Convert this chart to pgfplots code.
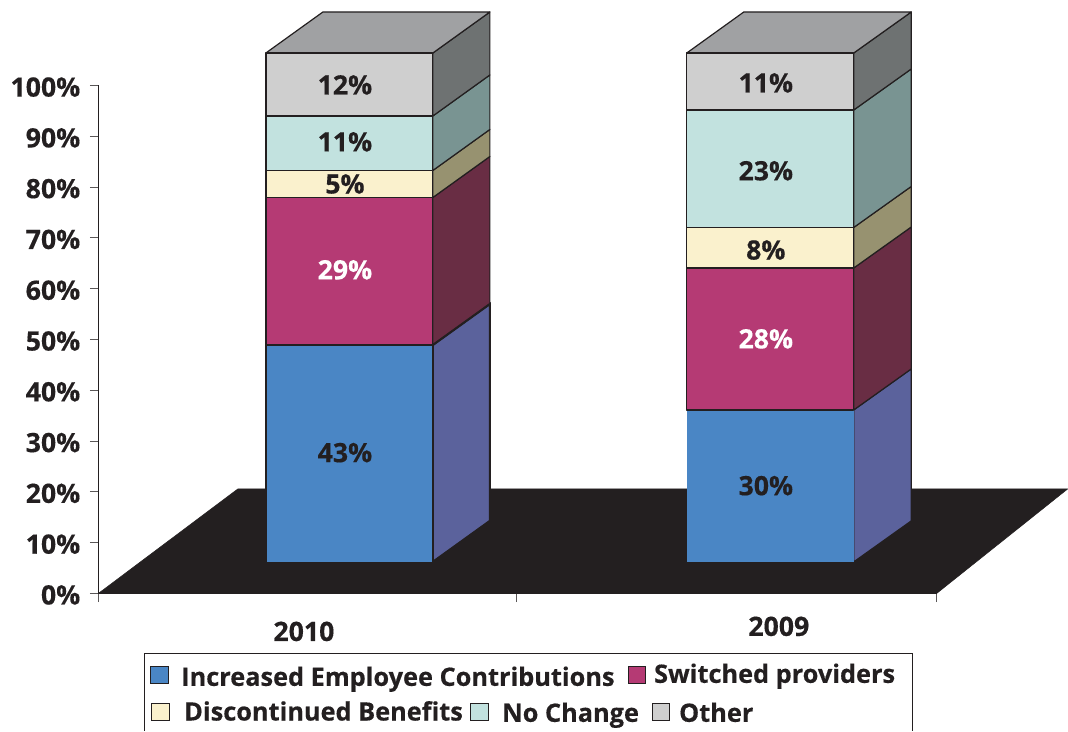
\documentclass[border=0pt]{standalone}
\usepackage{pgfplots}
\pgfplotsset{compat=1.18}
\usepackage{fontspec}
\setmainfont{Open Sans}[BoldFeatures={FakeBold=0.4}]
\definecolor{ink}{HTML}{231F20}
\definecolor{blueF}{HTML}{4A86C5}
\definecolor{blueS}{HTML}{5B629C}
\definecolor{magF}{HTML}{B53A74}
\definecolor{magS}{HTML}{692D44}
\definecolor{creamF}{HTML}{FAF1CD}
\definecolor{creamS}{HTML}{979270}
\definecolor{tealF}{HTML}{C2E2DF}
\definecolor{tealS}{HTML}{799492}
\definecolor{greyF}{HTML}{CFCFCF}
\definecolor{greyS}{HTML}{6E7272}
\definecolor{greyT}{HTML}{A0A1A3}
% one face of a bar: colour, coordinates
\newcommand{\face}[2]{\addplot[draw=ink,line width=0.9pt,line join=round,fill=#1] coordinates {#2} -- cycle;}
\newcommand{\lab}[4][ink]{\node[text=#1,font=\fontsize{20}{22}\bfseries] at (axis cs:#2,#3) {#4\%};}
\begin{document}
\begin{tikzpicture}
\begin{scope}[x=0.75pt,y=-0.75pt,shift={(-73.875pt,445.125pt)}]
\path[use as bounding box] (0,0) rectangle (1068,731);
\end{scope}
\begin{axis}[
  at={(0,0)},anchor=origin,
  scale only axis,width=628.875pt,height=381pt,
  xmin=98.5,xmax=937,ymin=0,ymax=100,
  clip=false,
  axis x line=bottom,axis y line=left,
  axis line style={-,draw=ink,line width=0.7pt},
  tick align=outside,
  major tick length=6.5pt,
  tick style={draw=ink!75,line width=0.7pt},
  xtick={98.5,517,937},xticklabels={},
  ytick={0,10,...,100},
  yticklabels={0\%,10\%,20\%,30\%,40\%,50\%,60\%,70\%,80\%,90\%,100\%},
  yticklabel style={text=ink,font=\fontsize{20}{22}\bfseries,inner sep=0pt,xshift=-7pt,yshift=-1.2pt},
]
% floor
\addplot[draw=ink,fill=ink] coordinates {(98.5,0)(238,20.57)(1068,20.57)(937,0)} -- cycle;

% 2010 sides
\face{blueS}{(433,6.2)(490,14.27)(490,56.97)(433,48.9)}
\face{magS}{(433,48.9)(490,56.97)(490,86.02)(433,77.95)}
\face{creamS}{(433,77.95)(490,86.02)(490,91.34)(433,83.27)}
\face{tealS}{(433,83.27)(490,91.34)(490,102.07)(433,94)}
\face{greyS}{(433,94)(490,102.07)(490,114.47)(433,106.4)}
\face{greyT}{(266,106.4)(323,114.47)(490,114.47)(433,106.4)}
% 2010 fronts
\addplot[fill=blueF,draw=none] coordinates {(266,6.2)(433,6.2)(433,48.9)(266,48.9)} -- cycle;
\addplot[draw=ink,line width=1.6pt] coordinates {(266,6.2)(266,48.9)(433,48.9)(433,6.2)};
\addplot[draw=ink,line width=1.6pt] coordinates {(433,48.9)(490,56.97)(490,14.27)(433,6.2)};
\face{magF}{(266,48.9)(433,48.9)(433,77.95)(266,77.95)}
\face{creamF}{(266,77.95)(433,77.95)(433,83.27)(266,83.27)}
\face{tealF}{(266,83.27)(433,83.27)(433,94)(266,94)}
\face{greyF}{(266,94)(433,94)(433,106.4)(266,106.4)}

% 2009 sides
\face{blueS}{(854,6.2)(911.5,14.27)(911.5,44.19)(854,36.12)}
\face{magS}{(854,36.12)(911.5,44.19)(911.5,72.14)(854,64.07)}
\face{creamS}{(854,64.07)(911.5,72.14)(911.5,80.12)(854,72.05)}
\face{tealS}{(854,72.05)(911.5,80.12)(911.5,103.25)(854,95.18)}
\face{greyS}{(854,95.18)(911.5,103.25)(911.5,114.47)(854,106.4)}
\face{greyT}{(687,106.4)(744,114.47)(911.5,114.47)(854,106.4)}
% 2009 fronts
\addplot[fill=blueF,draw=none] coordinates {(687,6.2)(854,6.2)(854,36.12)(687,36.12)} -- cycle;
\face{magF}{(687,36.12)(854,36.12)(854,64.07)(687,64.07)}
\face{creamF}{(687,64.07)(854,64.07)(854,72.05)(687,72.05)}
\face{tealF}{(687,72.05)(854,72.05)(854,95.18)(687,95.18)}
\face{greyF}{(687,95.18)(854,95.18)(854,106.4)(687,106.4)}

% value labels
\lab{345}{27.7}{43}
\lab[white]{345}{63.7}{29}
\lab{345}{80.6}{5}
\lab{345}{88.9}{11}
\lab{345}{100.1}{12}
\lab{766}{21.2}{30}
\lab[white]{766}{50.1}{28}
\lab{766}{67.6}{8}
\lab{766}{83.2}{23}
\lab{766}{100.5}{11}

% category names
\node[text=ink,font=\fontsize{20}{22}\bfseries] at (axis cs:304,-7.5) {2010};
\node[text=ink,font=\fontsize{20}{22}\bfseries] at (axis cs:779,-6.5) {2009};
\end{axis}
% legend, laid out in picture pixels
\begin{scope}[x=0.75pt,y=-0.75pt,shift={(-73.875pt,445.125pt)}]
\fill[white] (145,654) rectangle (912.5,731);
\draw[ink,line width=0.8pt] (145,731) -- (145,654) -- (912.5,654) -- (912.5,731);
\newcommand{\swatch}[3]{\draw[ink,line width=0.7pt,fill=#1] (#2,#3) rectangle ++(17.5,17);}
\newcommand{\ltext}[3]{\node[anchor=base west,inner sep=0pt,text=ink,font=\fontsize{19}{21}\bfseries] at (#1,#2) {#3};}
\swatch{blueF}{151}{667} \ltext{181}{686}{Increased Employee Contributions}
\swatch{magF}{628.5}{667} \ltext{654}{683}{Switched providers}
\swatch{creamF}{152}{704} \ltext{184}{720.7}{Discontinued Benefits}
\swatch{tealF}{471}{704} \ltext{502}{722}{No Change}
\swatch{greyF}{652.5}{704} \ltext{679}{722}{Other}
\end{scope}
\end{tikzpicture}
\end{document}
